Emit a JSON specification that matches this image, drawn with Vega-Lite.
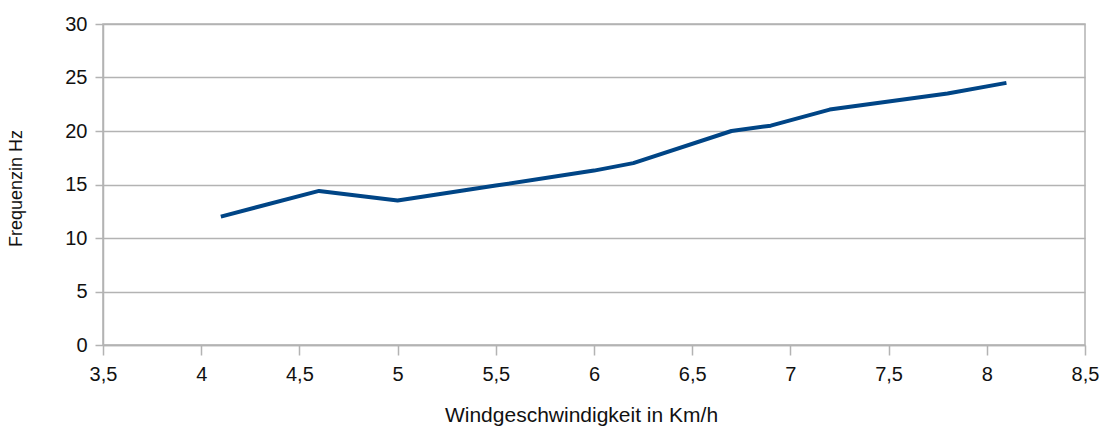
{
  "$schema": "https://vega.github.io/schema/vega-lite/v6.json",
  "width": 982,
  "height": 321,
  "autosize": {"type": "none"},
  "padding": {"left": 103, "top": 24, "right": 17, "bottom": 81},
  "background": "white",
  "config": {
    "view": {"stroke": "#b3b3b3", "strokeWidth": 1.5},
    "font": "Liberation Sans"
  },
  "data": {
    "values": [
      {"wind": 4.1, "freq": 12.0},
      {"wind": 4.6, "freq": 14.4},
      {"wind": 5.0, "freq": 13.5},
      {"wind": 5.5, "freq": 14.9},
      {"wind": 6.0, "freq": 16.3},
      {"wind": 6.2, "freq": 17.0},
      {"wind": 6.7, "freq": 20.0},
      {"wind": 6.9, "freq": 20.5},
      {"wind": 7.2, "freq": 22.0},
      {"wind": 7.8, "freq": 23.5},
      {"wind": 8.1, "freq": 24.5}
    ]
  },
  "mark": {"type": "line", "color": "#004586", "strokeWidth": 4, "strokeCap": "butt", "strokeJoin": "round"},
  "encoding": {
    "x": {
      "field": "wind",
      "type": "quantitative",
      "scale": {"domain": [3.5, 8.5], "nice": false, "zero": false},
      "axis": {
        "title": "Windgeschwindigkeit in Km/h",
        "values": [3.5, 4, 4.5, 5, 5.5, 6, 6.5, 7, 7.5, 8, 8.5],
        "labelExpr": "replace(toString(datum.value), '.', ',')",
        "grid": false,
        "domainColor": "#b3b3b3",
        "domainWidth": 1.5,
        "tickColor": "#b3b3b3",
        "tickWidth": 1.5,
        "tickSize": 10,
        "labelPadding": 9,
        "labelFontSize": 20,
        "labelColor": "#111111",
        "labelFlush": false,
        "titleFontSize": 21,
        "titleFontWeight": "normal",
        "titleColor": "#111111",
        "titleX": 478,
        "titleY": 76,
        "titleBaseline": "alphabetic",
        "titleAlign": "center"
      }
    },
    "y": {
      "field": "freq",
      "type": "quantitative",
      "scale": {"domain": [0, 30], "nice": false},
      "axis": {
        "title": "Frequenzin Hz",
        "values": [0, 5, 10, 15, 20, 25, 30],
        "grid": true,
        "gridColor": "#b3b3b3",
        "gridWidth": 1.5,
        "domainColor": "#b3b3b3",
        "domainWidth": 1.5,
        "tickColor": "#b3b3b3",
        "tickWidth": 1.5,
        "tickSize": 8,
        "labelPadding": 8,
        "labelFontSize": 20,
        "labelColor": "#111111",
        "labelFlush": false,
        "titleFontSize": 18,
        "titleFontWeight": "normal",
        "titleColor": "#111111",
        "titleAngle": -90,
        "titleX": -87,
        "titleY": 164,
        "titleBaseline": "middle",
        "titleAlign": "center"
      }
    }
  }
}
